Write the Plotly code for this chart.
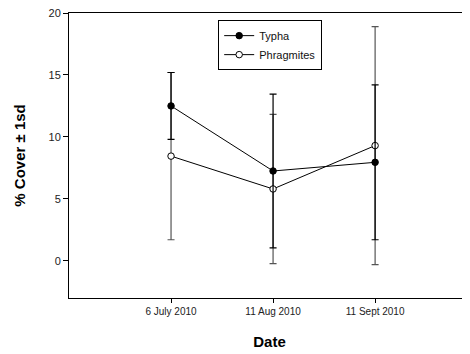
import plotly.graph_objects as go

dates = ["6 July 2010", "11 Aug 2010", "11 Sept 2010"]
xpos = [1, 2, 3]
typha_mean = [12.5, 7.25, 7.95]
typha_sd = [2.7, 6.2, 6.25]
phrag_mean = [8.45, 5.8, 9.3]
phrag_sd = [6.75, 6.02, 9.6]

fig = go.Figure()
fig.add_trace(go.Scatter(
    x=xpos, y=phrag_mean, name="Phragmites", mode="lines+markers",
    line=dict(color="black", width=1),
    marker=dict(symbol="circle", size=6.5, color="white", line=dict(color="black", width=1)),
    error_y=dict(type="data", array=phrag_sd, visible=True, color="#555555", thickness=1.2, width=3.5),
))
fig.add_trace(go.Scatter(
    x=xpos, y=typha_mean, name="Typha", mode="lines+markers",
    line=dict(color="black", width=1),
    marker=dict(symbol="circle", size=6.5, color="black", line=dict(color="black", width=1)),
    error_y=dict(type="data", array=typha_sd, visible=True, color="black", thickness=1.2, width=3.5),
))

# page body has an 8px default margin, so the figure is sized to fit the window
fig.update_layout(
    width=462, height=346,
    margin=dict(l=61, r=0, t=5, b=56, autoexpand=False),
    paper_bgcolor="white", plot_bgcolor="white",
    font=dict(family="Liberation Sans, Arial, sans-serif", color="#222222", size=10),
    showlegend=True,
    legend=dict(
        x=0.372, y=0.975, xanchor="left", yanchor="top",
        bordercolor="black", borderwidth=1, bgcolor="white",
        font=dict(size=11, color="#111111"),
        traceorder="reversed",
        itemwidth=30, tracegroupgap=0,
    ),
    xaxis=dict(
        range=[0, 3.93], tickvals=xpos, ticktext=dates,
        showline=True, linecolor="black", linewidth=1, mirror=True,
        ticks="outside", ticklen=4, tickcolor="black",
        showgrid=False, zeroline=False, automargin=False,
        tickfont=dict(size=10),
        title=dict(text="<b>Date</b>", font=dict(size=15, color="black"), standoff=20),
    ),
    yaxis=dict(
        range=[-3, 20], tickvals=[0, 5, 10, 15, 20],
        showline=True, linecolor="black", linewidth=1, mirror=False,
        ticks="outside", ticklen=5, tickcolor="black",
        showgrid=False, zeroline=False, automargin=False,
        ticklabeloverflow="allow",
        tickfont=dict(size=11),
        title=dict(text="<b>% Cover ± 1sd</b>", font=dict(size=15, color="black"), standoff=19),
    ),
)

fig.write_html("out.html")
